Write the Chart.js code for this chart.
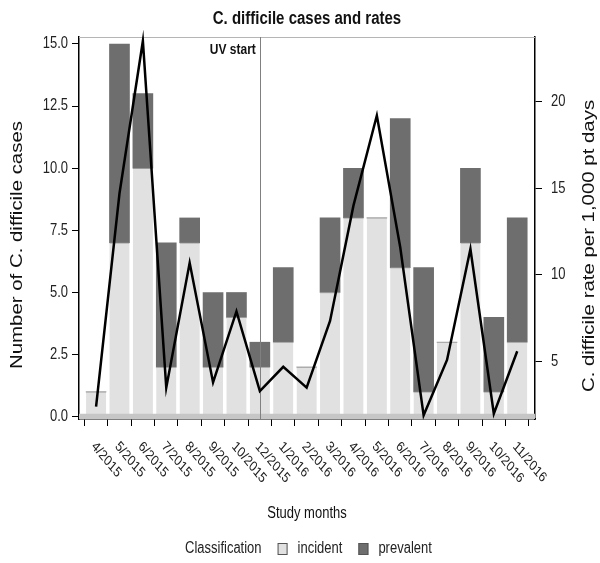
<!DOCTYPE html>
<html>
<head>
<meta charset="utf-8">
<script src="https://cdn.jsdelivr.net/npm/chart.js@4.4.1/dist/chart.umd.min.js"></script>
<style>
  html, body { margin: 0; padding: 0; background: #fff; }
</style>
</head>
<body>
<canvas id="myChart" width="600" height="563"></canvas>
<script>
const months = ["4/2015", "5/2015", "6/2015", "7/2015", "8/2015", "9/2015", "10/2015", "12/2015",
  "1/2016", "2/2016", "3/2016", "4/2016", "5/2016", "6/2016", "7/2016", "8/2016", "9/2016", "10/2016", "11/2016"];
const incident = [1, 7, 10, 2, 7, 2, 4, 2, 3, 2, 5, 8, 8, 6, 1, 3, 7, 1, 3];
const prevalent = [0, 8, 3, 5, 1, 3, 1, 1, 3, 0, 3, 2, 0, 6, 5, 0, 3, 3, 5];
const rate = [2.4, 14.7, 23.5, 3.5, 10.7, 3.8, 7.9, 3.3, 4.7, 3.5, 7.35, 14.0, 19.2, 11.6, 1.9, 5.1, 11.5, 2.0, 5.6];
const caseTicks = [0, 2.5, 5, 7.5, 10, 12.5, 15];
const rateTicks = [5, 10, 15, 20];
const uvStart = "12/2015";

const FONT = "'Liberation Sans', Arial, sans-serif";
const STRETCH = 1.2; // the reference is squeezed sideways, so its text looks tall

function drawText(ctx, text, x, y, opts) {
  ctx.save();
  ctx.translate(x, y);
  ctx.scale(1, STRETCH);
  if (opts.rotate) ctx.rotate(opts.rotate);
  ctx.font = opts.font;
  ctx.textAlign = opts.align || "center";
  ctx.textBaseline = opts.baseline || "middle";
  ctx.fillStyle = opts.color || "#222";
  ctx.fillText(text, 0, 0);
  ctx.restore();
}

// band at the foot of the panel, drawn under the rate line
const extras = {
  id: "extras",
  beforeDatasetDraw(chart, args) {
    if (args.index !== 0) return;
    const { ctx, chartArea: a, scales } = chart;
    const y0 = scales.y.getPixelForValue(0);
    ctx.save();
    ctx.fillStyle = "#c6c6c6";
    ctx.fillRect(a.left, y0 - 3, a.right - a.left, a.bottom - y0 + 3);
    ctx.strokeStyle = "#b5b5b5";
    ctx.lineWidth = 1;
    ctx.beginPath();
    ctx.moveTo(a.left, a.top + 0.5);
    ctx.lineTo(a.right, a.top + 0.5);
    ctx.stroke();
    const ux = Math.round(scales.x.getPixelForValue(months.indexOf(uvStart))) + 0.5;
    ctx.strokeStyle = "#808080";
    ctx.beginPath();
    ctx.moveTo(ux, a.top);
    ctx.lineTo(ux, a.bottom);
    ctx.stroke();
    ctx.restore();
  },
  afterDraw(chart) {
    const { ctx, chartArea: a, scales } = chart;
    const mid = (a.left + a.right) / 2;

    drawText(ctx, "C. difficile cases and rates", mid, 19, { font: "bold 15px " + FONT, color: "#111" });

    const ux = scales.x.getPixelForValue(months.indexOf(uvStart));
    drawText(ctx, "UV start", ux - 4, 50, { font: "bold 12px " + FONT, align: "right", color: "#111" });

    caseTicks.forEach(v => {
      drawText(ctx, v.toFixed(1), a.left - 11, scales.y.getPixelForValue(v), { font: "13px " + FONT, align: "right", color: "#222" });
    });
    rateTicks.forEach(v => {
      drawText(ctx, String(v), a.right + 16, scales.y1.getPixelForValue(v), { font: "13px " + FONT, align: "left", color: "#222" });
    });

    months.forEach((m, i) => {
      const x = scales.x.getPixelForValue(i);
      drawText(ctx, m, x + 1.5, a.bottom + 20, { font: "12px " + FONT, align: "left", baseline: "top", rotate: Math.PI / 4, color: "#222" });
    });

    drawText(ctx, "Study months", mid, 514, { font: "13px " + FONT, color: "#111" });
    drawText(ctx, "Number of C. difficile cases", 17, 245, { font: "17px " + FONT, rotate: -Math.PI / 2, color: "#111" });
    drawText(ctx, "C. difficile rate per 1,000 pt days", 589, 246, { font: "17px " + FONT, rotate: -Math.PI / 2, color: "#111" });

    // legend
    const ly = 549;
    const sets = chart.data.datasets.slice(1);
    ctx.save();
    ctx.font = "13px " + FONT;
    let x = 185;
    drawText(ctx, "Classification", x, ly, { font: "13px " + FONT, align: "left", color: "#222" });
    x += ctx.measureText("Classification").width + 16;
    sets.forEach(ds => {
      ctx.fillStyle = ds.backgroundColor;
      ctx.fillRect(x, ly - 6, 10, 12);
      ctx.strokeStyle = "#555";
      ctx.lineWidth = 1;
      ctx.strokeRect(x + 0.5, ly - 5.5, 9, 11);
      x += 20;
      drawText(ctx, ds.label, x, ly, { font: "13px " + FONT, align: "left", color: "#222" });
      x += ctx.measureText(ds.label).width + 16;
    });
    ctx.restore();
  }
};

const tickGrid = { drawOnChartArea: false, drawTicks: true, tickLength: 7, color: "#000", lineWidth: 1 };
const axisBorder = { display: true, color: "#000", width: 1.5 };

new Chart(document.getElementById("myChart"), {
  type: "bar",
  data: {
    datasets: [
      {
        type: "line",
        label: "rate",
        data: rate.map((v, i) => ({ x: i, y: v })),
        yAxisID: "y1",
        borderColor: "#000",
        borderWidth: 2.5,
        pointRadius: 0,
        tension: 0,
        order: 0,
        clip: false,
      },
      {
        label: "incident",
        data: incident.map((v, i) => ({ x: i, y: v })),
        backgroundColor: "#e1e1e1",
        borderColor: "#9a9a9a",
        borderWidth: { top: 1, right: 0, bottom: 0, left: 0 },
        barThickness: 20,
        order: 1,
      },
      {
        label: "prevalent",
        data: prevalent.map((v, i) => ({ x: i, y: v })),
        backgroundColor: "#6e6e6e",
        barThickness: 20,
        order: 1,
      },
    ],
  },
  options: {
    responsive: false,
    animation: false,
    devicePixelRatio: 1,
    layout: { padding: { top: 37, left: 0, right: 0, bottom: 0 } },
    plugins: {
      legend: { display: false },
      tooltip: { enabled: false },
    },
    scales: {
      x: {
        type: "linear",
        min: -0.73,
        max: 18.76,
        stacked: true,
        offset: false,
        grid: tickGrid,
        border: axisBorder,
        ticks: { display: false },
        afterBuildTicks: s => { s.ticks = months.map((m, i) => ({ value: i })); },
        afterFit: s => { s.height = 144; },
      },
      y: {
        position: "left",
        min: -0.09,
        max: 15.28,
        stacked: true,
        grid: tickGrid,
        border: axisBorder,
        ticks: { display: false },
        afterBuildTicks: s => { s.ticks = caseTicks.map(v => ({ value: v })); },
        afterFit: s => { s.width = 79; },
      },
      y1: {
        position: "right",
        min: 1.69,
        max: 23.73,
        grid: tickGrid,
        border: axisBorder,
        ticks: { display: false },
        afterBuildTicks: s => { s.ticks = rateTicks.map(v => ({ value: v })); },
        afterFit: s => { s.width = 65; },
      },
    },
  },
  plugins: [extras],
});
</script>
</body>
</html>
